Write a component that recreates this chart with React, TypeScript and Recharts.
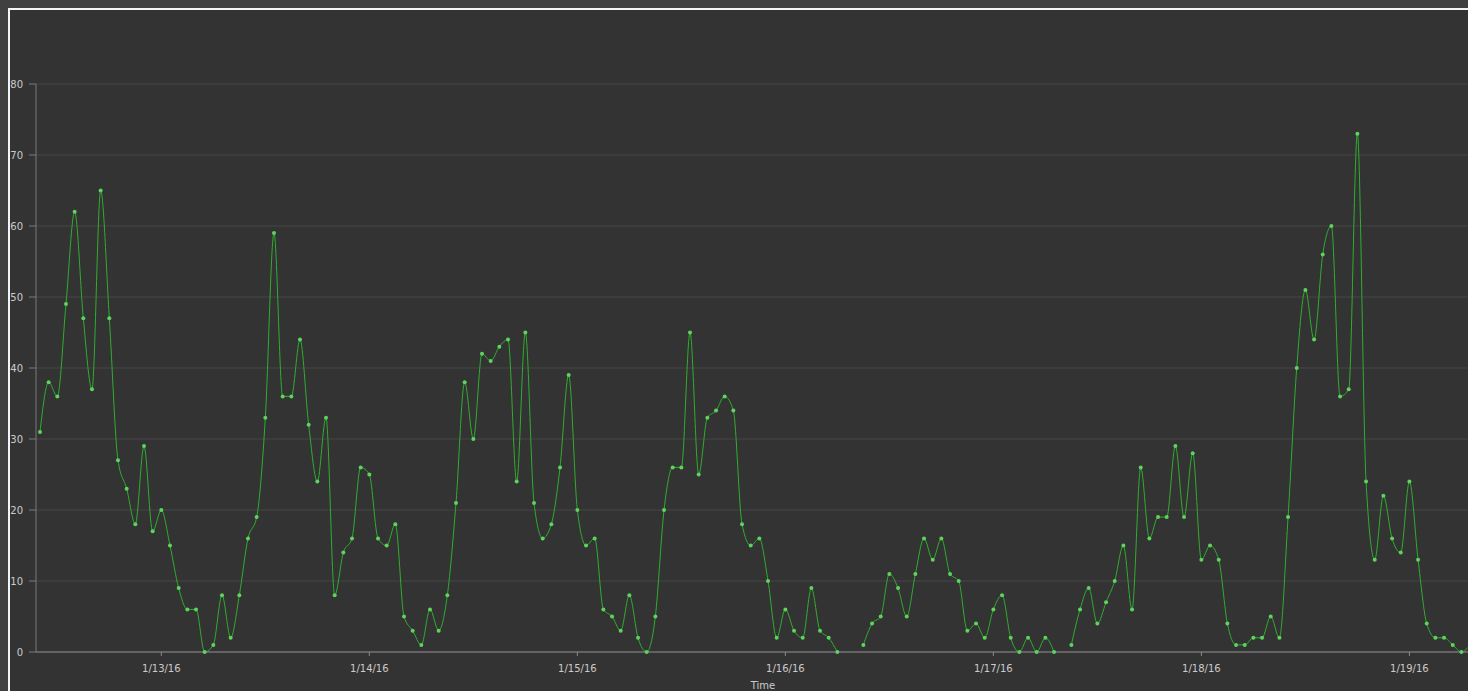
import { LineChart, Line, XAxis, YAxis, CartesianGrid, Label } from 'recharts';

// hourly counts, first sample is 1/12/16 10:00 (14 hours before 1/13 00:00)
const firstHourOffset = -14;
const counts: Array<number | null> = [
  31, 38, 36, 49, 62, 47, 37, 65, 47, 27,
  23, 18, 29, 17, 20, 15, 9, 6, 6, 0,
  1, 8, 2, 8, 16, 19, 33, 59, 36, 36,
  44, 32, 24, 33, 8, 14, 16, 26, 25, 16,
  15, 18, 5, 3, 1, 6, 3, 8, 21, 38,
  30, 42, 41, 43, 44, 24, 45, 21, 16, 18,
  26, 39, 20, 15, 16, 6, 5, 3, 8, 2,
  0, 5, 20, 26, 26, 45, 25, 33, 34, 36,
  34, 18, 15, 16, 10, 2, 6, 3, 2, 9,
  3, 2, 0, null, null, 1, 4, 5, 11, 9,
  5, 11, 16, 13, 16, 11, 10, 3, 4, 2,
  6, 8, 2, 0, 2, 0, 2, 0, null, 1,
  6, 9, 4, 7, 10, 15, 6, 26, 16, 19,
  19, 29, 19, 28, 13, 15, 13, 4, 1, 1,
  2, 2, 5, 2, 19, 40, 51, 44, 56, 60,
  36, 37, 73, 24, 13, 22, 16, 14, 24, 13,
  4, 2, 2, 1, 0, 1,
];

const dayTicks = [0, 24, 48, 72, 96, 120, 144];
const dayLabels = ['1/13/16', '1/14/16', '1/15/16', '1/16/16', '1/17/16', '1/18/16', '1/19/16'];
const yTicks = [0, 10, 20, 30, 40, 50, 60, 70, 80];

const data = counts.map((value, i) => ({ t: firstHourOffset + i, value }));

const axisText = { fill: '#cccccc', fontSize: 10, fontFamily: 'DejaVu Sans, Verdana, sans-serif' };

export default function App() {
  return (
    <div style={{ position: 'fixed', left: 0, top: 0, width: 1468, height: 691, background: '#404040', overflow: 'hidden' }}>
      <div
        style={{
          position: 'absolute',
          left: 8,
          top: 8,
          width: 1480,
          height: 690,
          border: '2px solid #f4f4f4',
          background: '#333333',
        }}
      >
        <LineChart width={1480} height={690} data={data} margin={{ top: 74, right: 0, bottom: 0, left: 0 }}>
          <CartesianGrid vertical={false} stroke="#474747" strokeWidth={1} />
          <XAxis
            type="number"
            dataKey="t"
            domain={[-14.46, 153.3]}
            allowDataOverflow
            ticks={dayTicks}
            tickFormatter={(v: number) => dayLabels[dayTicks.indexOf(v)] ?? ''}
            tick={axisText}
            tickSize={4}
            tickMargin={9}
            stroke="#8a8a8a"
            height={48}
          >
            <Label value="Time" position="insideBottom" offset={11.5} style={axisText} />
          </XAxis>
          <YAxis
            domain={[0, 80]}
            ticks={yTicks}
            tick={axisText}
            tickSize={7}
            tickMargin={6}
            stroke="#7a7a7a"
            width={26}
          />
          <Line
            type="monotone"
            dataKey="value"
            stroke="#2fae2f"
            strokeWidth={1}
            dot={{ r: 2, fill: '#5ed35e', stroke: 'none' }}
            connectNulls={false}
            isAnimationActive={false}
          />
        </LineChart>
      </div>
    </div>
  );
}
